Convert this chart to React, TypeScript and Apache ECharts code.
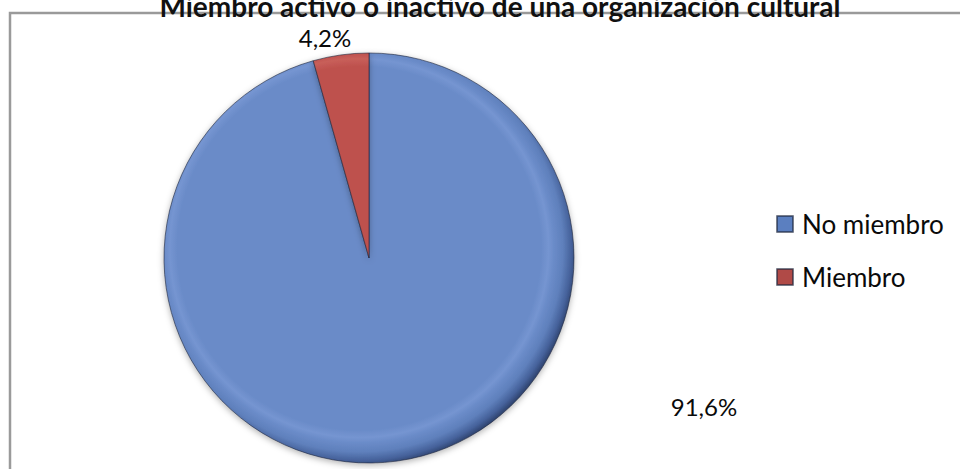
import React, { useEffect, useRef } from "react";
import * as echarts from "echarts";

const TITLE = "Miembro activo o inactivo de una organización cultural";
const categories = ["No miembro", "Miembro"];
const values = [91.6, 4.2];
const baseColors = ["#6a8bc8", "#be514d"];
const legendColors = ["#5b7fc0", "#b04a47"];

export default function App() {
  const ref = useRef<HTMLDivElement>(null);
  useEffect(() => {
    if (!ref.current) return;
    const chart = echarts.init(ref.current, null, { renderer: "svg" });
    const cx = 369;
    const cy = 258;
    const r = 205;
    const off = 14;
    const gr = r + off;
    const grad = (c0: string, light: string, c1: string, c2: string, c3: string) =>
      new echarts.graphic.RadialGradient(
        cx - off * 0.7,
        cy - off * 0.7,
        gr,
        [
          { offset: 0, color: c0 },
          { offset: 0.83, color: c0 },
          { offset: 0.865, color: light },
          { offset: 0.89, color: c0 },
          { offset: 0.93, color: c1 },
          { offset: 0.97, color: c2 },
          { offset: 1, color: c3 },
        ],
        true
      );
    const fills = [
      grad(baseColors[0], "#7595d1", "#5f80bc", "#45619a", "#2c406a"),
      grad(baseColors[1], "#c85f5a", "#b24a46", "#8e3633", "#5e1f1d"),
    ];
    const labelPos = [
      { x: 704, y: 406 },
      { x: 325, y: 37 },
    ];
    chart.setOption({
      animation: false,
      backgroundColor: "#ffffff",
      title: {
        text: TITLE,
        left: 495,
        textAlign: "center",
        top: -13,
        textStyle: {
          fontFamily: "Lato",
          fontWeight: "bold",
          fontSize: 28,
          color: "#111111",
        },
      },
      graphic: [
        {
          type: "rect",
          z: -10,
          shape: { x: 10, y: 13, width: 970, height: 480 },
          style: { fill: "#ffffff", stroke: "#9a9a9a", lineWidth: 2.5 },
        },
      ],
      legend: {
        orient: "vertical",
        left: 771,
        top: 204,
        itemWidth: 16,
        itemHeight: 16,
        itemGap: 23,
        icon: "rect",
        data: categories.map((name, i) => ({
          name,
          itemStyle: { color: legendColors[i] },
        })),
        textStyle: {
          fontFamily: "Lato",
          fontSize: 26,
          lineHeight: 30,
          color: "#0a0a0a",
          padding: [0, 0, 0, 4],
        },
      },
      series: [
        {
          type: "pie",
          center: [cx, cy],
          radius: r,
          startAngle: 90,
          clockwise: true,
          data: categories.map((name, i) => ({
            name,
            value: values[i],
            itemStyle: { color: fills[i] },
          })),
          itemStyle: {
            borderColor: "rgba(30,38,60,0.6)",
            borderWidth: 1,
            shadowBlur: 6,
            shadowColor: "rgba(0,0,0,0.3)",
            shadowOffsetY: 2,
          },
          label: {
            show: true,
            position: "outside",
            formatter: (p: any) => `${String(p.value).replace(".", ",")}%`,
            fontFamily: "Lato",
            fontSize: 24,
            color: "#0a0a0a",
          },
          labelLine: { show: false },
          labelLayout: (p: any) => ({
            x: labelPos[p.dataIndex].x,
            y: labelPos[p.dataIndex].y,
            align: "center",
            verticalAlign: "middle",
          }),
          emphasis: { disabled: true },
        },
      ],
    });
    return () => chart.dispose();
  }, []);
  return (
    <div
      ref={ref}
      style={{ position: "absolute", left: 0, top: 0, width: 960, height: 469 }}
    />
  );
}
